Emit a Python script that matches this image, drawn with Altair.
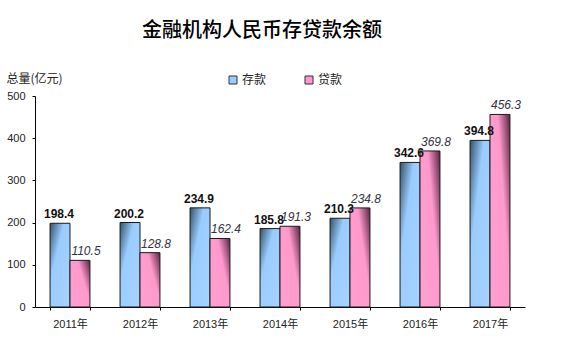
import altair as alt
import pandas as pd

years = ["2011年", "2012年", "2013年", "2014年", "2015年", "2016年", "2017年"]
deposit = [198.4, 200.2, 234.9, 185.8, 210.3, 342.6, 394.8]
loan = [110.5, 128.8, 162.4, 191.3, 234.8, 369.8, 456.3]
series = ["存款", "贷款"]

rows = []
for y, d, l in zip(years, deposit, loan):
    rows.append({"year": y, "series": series[0], "value": d, "label": f"{d:.1f}"})
    rows.append({"year": y, "series": series[1], "value": l, "label": f"{l:.1f}"})
df = pd.DataFrame(rows)

CJK = "Noto Sans CJK SC"
LAT = "Liberation Sans"

x_enc = alt.X(
    "year:N",
    sort=years,
    scale=alt.Scale(paddingInner=0.43, paddingOuter=0.215),
    axis=alt.Axis(
        title=None, labelAngle=0, labelFont=f"{LAT}, {CJK}", labelFontSize=11,
        labelColor="#222222", labelPadding=8, domainColor="#000000",
        tickColor="#000000", tickSize=3, tickBand="extent",
    ),
)
xo_enc = alt.XOffset("series:N", scale=alt.Scale(domain=series))
y_enc = alt.Y(
    "value:Q",
    scale=alt.Scale(domain=[0, 500], nice=False),
    axis=alt.Axis(
        values=[0, 100, 200, 300, 400, 500], grid=False,
        title="总量(亿元)", titleAngle=0, titleAlign="left", titleBaseline="bottom",
        titleX=-29, titleY=-11, titleFont=CJK, titleFontSize=12,
        titleFontWeight="normal", titleColor="#222222",
        labelFont=LAT, labelFontSize=11, labelColor="#222222", labelPadding=7,
        domainColor="#000000", tickColor="#000000", tickSize=3,
    ),
)

dep_grad = alt.Gradient(
    gradient="linear", x1=0, y1=0, x2=1, y2=1,
    stops=[
        alt.GradientStop(offset=0, color="#34536b"),
        alt.GradientStop(offset=0.35, color="#99ccff"),
        alt.GradientStop(offset=1, color="#a6d3ff"),
    ],
)
loan_grad = alt.Gradient(
    gradient="linear", x1=1, y1=0, x2=0, y2=0.7,
    stops=[
        alt.GradientStop(offset=0, color="#5a2342"),
        alt.GradientStop(offset=0.42, color="#ff99cc"),
        alt.GradientStop(offset=1, color="#ff9fd0"),
    ],
)

base = alt.Chart(df)

dep_bars = base.transform_filter(alt.datum.series == series[0]).mark_bar(
    color=dep_grad, stroke="#1a1a1a", strokeWidth=1
).encode(x=x_enc, xOffset=xo_enc, y=y_enc)

loan_bars = base.transform_filter(alt.datum.series == series[1]).mark_bar(
    color=loan_grad, stroke="#1a1a1a", strokeWidth=1
).encode(x=x_enc, xOffset=xo_enc, y=y_enc)

legend_layer = base.mark_square(opacity=0, size=1).encode(
    x=x_enc, xOffset=xo_enc, y=y_enc,
    color=alt.Color(
        "series:N",
        scale=alt.Scale(domain=series, range=["#99ccff", "#ff99cc"]),
        legend=alt.Legend(
            title=None, orient="none", direction="horizontal", columns=2,
            legendX=192, legendY=-22, symbolType="square", symbolSize=64,
            symbolOpacity=1, symbolStrokeColor="#333333", symbolStrokeWidth=1,
            labelFont=CJK, labelFontSize=12, labelColor="#222222",
            labelOffset=3, columnPadding=36,
        ),
    ),
)

dep_text = base.transform_filter(alt.datum.series == series[0]).mark_text(
    font=LAT, fontSize=12, fontWeight="bold", color="#111111",
    baseline="alphabetic", dy=-5, dx=-1,
).encode(x=x_enc, xOffset=xo_enc, y=y_enc, text="label:N")

loan_text = base.transform_filter(alt.datum.series == series[1]).mark_text(
    font=LAT, fontSize=12, fontStyle="italic", color="#333344",
    baseline="alphabetic", dy=-5, dx=6,
).encode(x=x_enc, xOffset=xo_enc, y=y_enc, text="label:N")

chart = alt.layer(dep_bars, loan_bars, legend_layer, dep_text, loan_text).properties(
    width=490, height=211,
    background="#ffffff",
    autosize=alt.AutoSizeParams(type="none"),
    padding={"left": 35, "top": 96, "right": 51, "bottom": 46},
    title=alt.TitleParams(
        text="金融机构人民币存贷款余额", font=CJK, fontSize=20, fontWeight=500,
        color="#000000", anchor="middle", dx=-18, offset=31,
    ),
).configure_view(stroke=None)

chart.save("out.html", embed_options={"renderer": "svg", "actions": False})
